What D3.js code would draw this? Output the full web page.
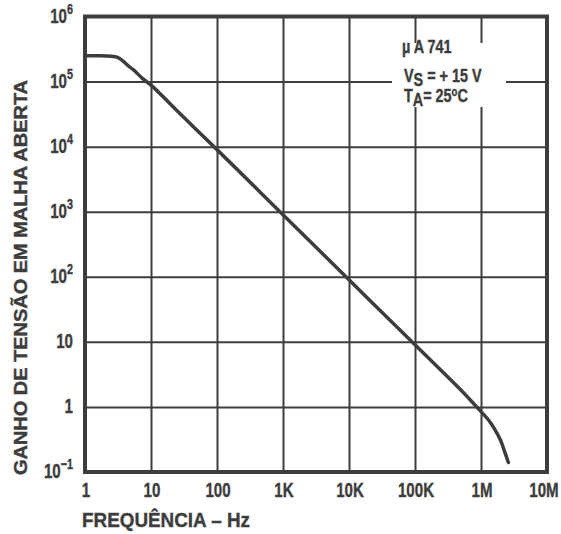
<!DOCTYPE html>
<html>
<head>
<meta charset="utf-8">
<script src="https://cdn.jsdelivr.net/npm/d3@7"></script>
<style>
  body { margin: 0; background: #fff; }
  svg { display: block; }
  text { font-family: "Liberation Sans", Arial, sans-serif; font-weight: bold; fill: #3d3d3d;
         stroke: #3d3d3d; stroke-width: 0.4px; }
</style>
</head>
<body>
<div class="container"></div>
<script>
const w = 561;
const h = 534;
const plot = {left: 85, right: 547, top: 16.5, bottom: 472};
const ink = '#3d3d3d';

// tick values and labels
const xTicks = [1, 10, 100, 1e3, 1e4, 1e5, 1e6, 1e7];
const xTickLabels = ['1', '10', '100', '1K', '10K', '100K', '1M', '10M'];
const yTicks = [0.1, 1, 10, 100, 1e3, 1e4, 1e5, 1e6];
const yTickBase = ['10', '1', '10', '10', '10', '10', '10', '10'];
const yTickExp = ['\u22121', '', '', '2', '3', '4', '5', '6'];

// open loop gain curve
const freq = [1, 1.6, 2.2, 2.7, 3.1, 3.7, 4.4, 5.5, 7.4, 10, 31.6, 100, 1e3, 1e4, 1e5, 5e5, 9e5, 1.3e6, 1.6e6, 2e6, 2.3e6, 2.6e6];
const gain = [2.5e5, 2.5e5, 2.48e5, 2.43e5, 2.35e5, 2.1e5, 1.79e5, 1.5e5, 1.12e5, 8.8e4, 2.8e4, 9e3, 900, 90, 9, 1.8, 0.95, 0.63, 0.46, 0.3, 0.2, 0.14];

const svg = d3.select('.container')
              .append('svg')
              .attr('width', w)
              .attr('height', h);

const x = d3.scaleLog().domain([1, 1e7]).range([plot.left, plot.right]);
const y = d3.scaleLog().domain([0.1, 1e6]).range([plot.bottom, plot.top]);

// grid lines via axes
const xGrid = svg.append('g')
   .attr('transform', `translate(0,${plot.bottom})`)
   .call(d3.axisBottom(x).tickValues(xTicks).tickSize(-(plot.bottom - plot.top)).tickFormat(''));
const yGrid = svg.append('g')
   .attr('transform', `translate(${plot.left},0)`)
   .call(d3.axisLeft(y).tickValues(yTicks).tickSize(-(plot.right - plot.left)).tickFormat(''));
[xGrid, yGrid].forEach(g => {
  g.select('.domain').remove();
  g.selectAll('line').attr('stroke', ink).attr('stroke-width', 2);
});

// white box behind the annotation
svg.append('rect')
   .attr('x', 392).attr('y', 43)
   .attr('width', 114).attr('height', 64)
   .attr('fill', '#fff');

// frame
svg.append('rect')
   .attr('x', plot.left).attr('y', plot.top)
   .attr('width', plot.right - plot.left)
   .attr('height', plot.bottom - plot.top)
   .attr('fill', 'none')
   .attr('stroke', ink)
   .attr('stroke-width', 4);

// curve
const line = d3.line()
   .x((d, i) => x(freq[i]))
   .y((d, i) => y(gain[i]))
   .curve(d3.curveCatmullRom.alpha(0.5));
svg.append('path')
   .datum(freq)
   .attr('d', line)
   .attr('fill', 'none')
   .attr('stroke', ink)
   .attr('stroke-width', 3.5)
   .attr('stroke-linecap', 'round');

// x tick labels (last one pulled in so it stays on the page)
svg.selectAll('.xlab')
   .data(xTicks)
   .enter()
   .append('text')
   .attr('class', 'xlab')
   .attr('text-anchor', 'middle')
   .style('font-size', '21px')
   .attr('transform', (d, i) => `translate(${x(d) + (i === xTicks.length - 1 ? -3 : 1)},497) scale(0.72,1)`)
   .text((d, i) => xTickLabels[i]);

// y tick labels
const ylab = svg.selectAll('.ylab')
   .data(yTicks)
   .enter()
   .append('text')
   .attr('class', 'ylab')
   .attr('text-anchor', 'end')
   .style('font-size', '21px')
   .attr('transform', d => `translate(73,${y(d) + 6}) scale(0.72,1)`);
ylab.append('tspan').text((d, i) => yTickBase[i]);
ylab.append('tspan')
    .attr('dy', -9)
    .style('font-size', '15px')
    .text((d, i) => yTickExp[i]);

// axis titles
svg.append('text')
   .attr('x', 82).attr('y', 527)
   .attr('textLength', 168)
   .attr('lengthAdjust', 'spacingAndGlyphs')
   .style('font-size', '21px')
   .text('FREQUÊNCIA \u2013 Hz');

svg.append('text')
   .attr('transform', 'translate(27,475) rotate(-90)')
   .attr('textLength', 395)
   .attr('lengthAdjust', 'spacingAndGlyphs')
   .style('font-size', '19px')
   .text('GANHO DE TENSÃO EM MALHA ABERTA');

// annotation
const note = svg.append('g').style('font-size', '18px');
note.append('text')
    .attr('transform', 'translate(402,53) scale(0.8,1)')
    .text('\u00b5 A 741');
const vs = note.append('text')
    .attr('transform', 'translate(404,82) scale(0.8,1)');
vs.append('tspan').text('V');
vs.append('tspan').attr('dy', 4).text('S');
vs.append('tspan').attr('dy', -4).text(' = + 15 V');
const ta = note.append('text')
    .attr('transform', 'translate(404,102) scale(0.8,1)');
ta.append('tspan').text('T');
ta.append('tspan').attr('dy', 4).text('A');
ta.append('tspan').attr('dy', -4).text('= 25');
ta.append('tspan').attr('dy', -6).style('font-size', '12px').text('o');
ta.append('tspan').attr('dy', 6).text('C');
</script>
</body>
</html>
